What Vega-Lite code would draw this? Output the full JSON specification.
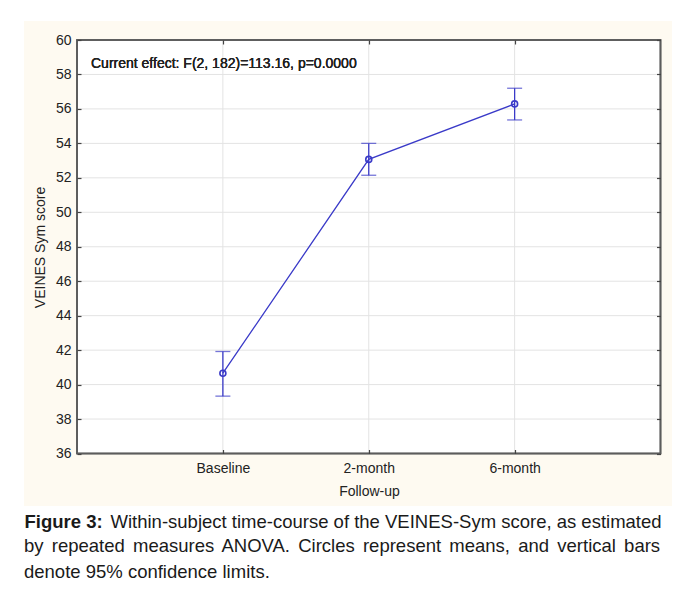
{
  "$schema": "https://vega.github.io/schema/vega-lite/v6.json",
  "width": 648,
  "height": 485,
  "autosize": {"type": "none"},
  "padding": {"left": 24, "top": 21, "right": 4, "bottom": 84},
  "background": "white",
  "config": {
    "font": "Liberation Sans",
    "view": {"fill": "#fefaf1", "stroke": null}
  },
  "datasets": {
    "scores": [
      {"time": "Baseline", "mean": 40.66, "lo": 39.33, "hi": 41.92},
      {"time": "2-month", "mean": 53.07, "lo": 52.15, "hi": 54.0},
      {"time": "6-month", "mean": 56.29, "lo": 55.36, "hi": 57.2}
    ],
    "grid": [{"v": 38}, {"v": 40}, {"v": 42}, {"v": 44}, {"v": 46}, {"v": 48}, {"v": 50}, {"v": 52}, {"v": 54}, {"v": 56}, {"v": 58}]
  },
  "data": {"name": "scores"},
  "title": {
    "text": [
      "by\u2006 repeated\u2006 measures\u2006 ANOVA.\u2006 Circles\u2006 represent\u2006 means,\u2006 and\u2006 vertical\u2006 bars",
      "denote 95% confidence limits."
    ],
    "orient": "bottom",
    "anchor": "start",
    "frame": "group",
    "offset": 6.5,
    "font": "Liberation Sans",
    "fontSize": 18.5,
    "fontWeight": "normal",
    "color": "#1a1a1a",
    "lineHeight": 25.5
  },
  "resolve": {"axis": {"x": "independent", "y": "independent"}},
  "layer": [
    {
      "mark": {"type": "rect", "fill": "white", "stroke": null},
      "encoding": {
        "x": {"datum": "L", "type": "ordinal", "axis": null,
              "scale": {"type": "point", "domain": ["L", "Baseline", "2-month", "6-month", "R"], "padding": 0.2211, "align": 0.8217, "round": false}},
        "x2": {"datum": "R"},
        "y": {"datum": 36, "type": "quantitative", "axis": null,
              "scale": {"domain": [32.953, 61.103], "nice": false, "zero": false}},
        "y2": {"datum": 60}
      }
    },
    {
      "data": {"name": "grid"},
      "mark": {"type": "rule", "stroke": "#e3e3e3", "strokeWidth": 1},
      "encoding": {
        "x": {"datum": "L", "type": "ordinal", "axis": null,
              "scale": {"type": "point", "domain": ["L", "Baseline", "2-month", "6-month", "R"], "padding": 0.2211, "align": 0.8217, "round": false}},
        "x2": {"datum": "R"},
        "y": {"field": "v", "type": "quantitative",
              "scale": {"domain": [32.953, 61.103], "nice": false, "zero": false},
              "axis": {"orient": "right", "offset": -11.5, "values": [36, 38, 40, 42, 44, 46, 48, 50, 52, 54, 56, 58, 60],
                       "domain": false, "grid": false, "labels": false,
                       "tickSize": -4, "tickColor": "#444", "tickWidth": 1.2, "zindex": 1,
                       "title": "Within-subject time-course of the VEINES-Sym score, as estimated",
                       "titleFont": "Liberation Sans", "titleFontSize": 18.5, "titleFontWeight": "normal", "titleColor": "#1a1a1a",
                       "titleAngle": 0, "titleAlign": "left", "titleBaseline": "top", "titleX": -550.5, "titleY": 491}}
      }
    },
    {
      "mark": {"type": "rule", "stroke": "#e3e3e3", "strokeWidth": 1},
      "encoding": {
        "x": {"field": "time", "type": "ordinal",
              "scale": {"type": "point", "domain": ["L", "Baseline", "2-month", "6-month", "R"], "padding": 0.2211, "align": 0.8217, "round": false},
              "axis": {"orient": "top", "offset": -19, "values": ["Baseline", "2-month", "6-month"],
                       "domain": false, "grid": false, "labels": false,
                       "tickSize": -4, "tickColor": "#444", "tickWidth": 1.2, "zindex": 1,
                       "title": "Figure 3:",
                       "titleFont": "Liberation Sans", "titleFontSize": 18.5, "titleFontWeight": "bold", "titleColor": "#1a1a1a",
                       "titleAngle": 0, "titleAlign": "left", "titleBaseline": "top", "titleX": 0, "titleY": 472}},
        "y": {"datum": 36, "type": "quantitative", "axis": null,
              "scale": {"domain": [32.953, 61.103], "nice": false, "zero": false}},
        "y2": {"datum": 60}
      }
    },
    {
      "mark": {"type": "rect", "fill": null, "fillOpacity": 0, "stroke": "#5c5c5c", "strokeWidth": 1.5},
      "encoding": {
        "x": {"datum": "L", "type": "ordinal", "axis": null,
              "scale": {"type": "point", "domain": ["L", "Baseline", "2-month", "6-month", "R"], "padding": 0.2211, "align": 0.8217, "round": false}},
        "x2": {"datum": "R"},
        "y": {"datum": 36, "type": "quantitative", "axis": null,
              "scale": {"domain": [32.953, 61.103], "nice": false, "zero": false}},
        "y2": {"datum": 60}
      }
    },
    {
      "mark": {"type": "rule", "stroke": "#3a3ac8", "strokeWidth": 1.3},
      "encoding": {
        "x": {"field": "time", "type": "ordinal",
              "scale": {"type": "point", "domain": ["L", "Baseline", "2-month", "6-month", "R"], "padding": 0.2211, "align": 0.8217, "round": false},
              "axis": {"orient": "bottom", "offset": -52.5, "values": ["Baseline", "2-month", "6-month"],
                       "domain": false, "grid": false, "tickSize": -4, "tickColor": "#444", "tickWidth": 1.2,
                       "labelFont": "Liberation Sans", "labelFontSize": 14, "labelColor": "#222", "labelPadding": 12, "labelAngle": 0,
                       "title": "Follow-up", "titleFont": "Liberation Sans", "titleFontSize": 14, "titleFontWeight": "normal", "titleColor": "#222",
                       "titleX": 345, "titleY": 37.5, "titleBaseline": "middle", "titleAlign": "center", "zindex": 1}},
        "y": {"field": "lo", "type": "quantitative",
              "scale": {"domain": [32.953, 61.103], "nice": false, "zero": false},
              "axis": {"orient": "left", "offset": -53, "values": [36, 38, 40, 42, 44, 46, 48, 50, 52, 54, 56, 58, 60],
                       "domain": false, "grid": false, "tickSize": -4, "tickColor": "#444", "tickWidth": 1.2,
                       "labelFont": "Liberation Sans", "labelFontSize": 14, "labelColor": "#222", "labelPadding": 10,
                       "title": "VEINES Sym score", "titleFont": "Liberation Sans", "titleFontSize": 14, "titleFontWeight": "normal", "titleColor": "#222",
                       "titleAngle": -90, "titleX": -36.5, "titleY": 226, "titleAlign": "center", "titleBaseline": "middle", "zindex": 1}},
        "y2": {"field": "hi"}
      }
    },
    {
      "mark": {"type": "tick", "color": "#3a3ac8", "size": 15, "thickness": 1.3},
      "encoding": {
        "x": {"field": "time", "type": "ordinal", "axis": null,
              "scale": {"type": "point", "domain": ["L", "Baseline", "2-month", "6-month", "R"], "padding": 0.2211, "align": 0.8217, "round": false}},
        "y": {"field": "lo", "type": "quantitative", "axis": null,
              "scale": {"domain": [32.953, 61.103], "nice": false, "zero": false}}
      }
    },
    {
      "mark": {"type": "tick", "color": "#3a3ac8", "size": 15, "thickness": 1.3},
      "encoding": {
        "x": {"field": "time", "type": "ordinal", "axis": null,
              "scale": {"type": "point", "domain": ["L", "Baseline", "2-month", "6-month", "R"], "padding": 0.2211, "align": 0.8217, "round": false}},
        "y": {"field": "hi", "type": "quantitative", "axis": null,
              "scale": {"domain": [32.953, 61.103], "nice": false, "zero": false}}
      }
    },
    {
      "mark": {"type": "line", "stroke": "#3a3ac8", "strokeWidth": 1.3},
      "encoding": {
        "x": {"field": "time", "type": "ordinal", "axis": null, "sort": null,
              "scale": {"type": "point", "domain": ["L", "Baseline", "2-month", "6-month", "R"], "padding": 0.2211, "align": 0.8217, "round": false}},
        "y": {"field": "mean", "type": "quantitative", "axis": null,
              "scale": {"domain": [32.953, 61.103], "nice": false, "zero": false}}
      }
    },
    {
      "mark": {"type": "point", "shape": "circle", "filled": false, "size": 36, "stroke": "#3a3ac8", "strokeWidth": 1.6, "opacity": 1},
      "encoding": {
        "x": {"field": "time", "type": "ordinal", "axis": null,
              "scale": {"type": "point", "domain": ["L", "Baseline", "2-month", "6-month", "R"], "padding": 0.2211, "align": 0.8217, "round": false}},
        "y": {"field": "mean", "type": "quantitative", "axis": null,
              "scale": {"domain": [32.953, 61.103], "nice": false, "zero": false}}
      }
    },
    {
      "mark": {"type": "text", "text": "Current effect: F(2, 182)=113.16, p=0.0000", "align": "left", "baseline": "alphabetic",
               "dx": 14, "font": "Liberation Sans", "fontSize": 14, "fontWeight": "normal", "fill": "#222", "stroke": null},
      "encoding": {
        "x": {"datum": "L", "type": "ordinal", "axis": null,
              "scale": {"type": "point", "domain": ["L", "Baseline", "2-month", "6-month", "R"], "padding": 0.2211, "align": 0.8217, "round": false}},
        "y": {"datum": 58.358, "type": "quantitative", "axis": null,
              "scale": {"domain": [32.953, 61.103], "nice": false, "zero": false}}
      }
    }
  ]
}
